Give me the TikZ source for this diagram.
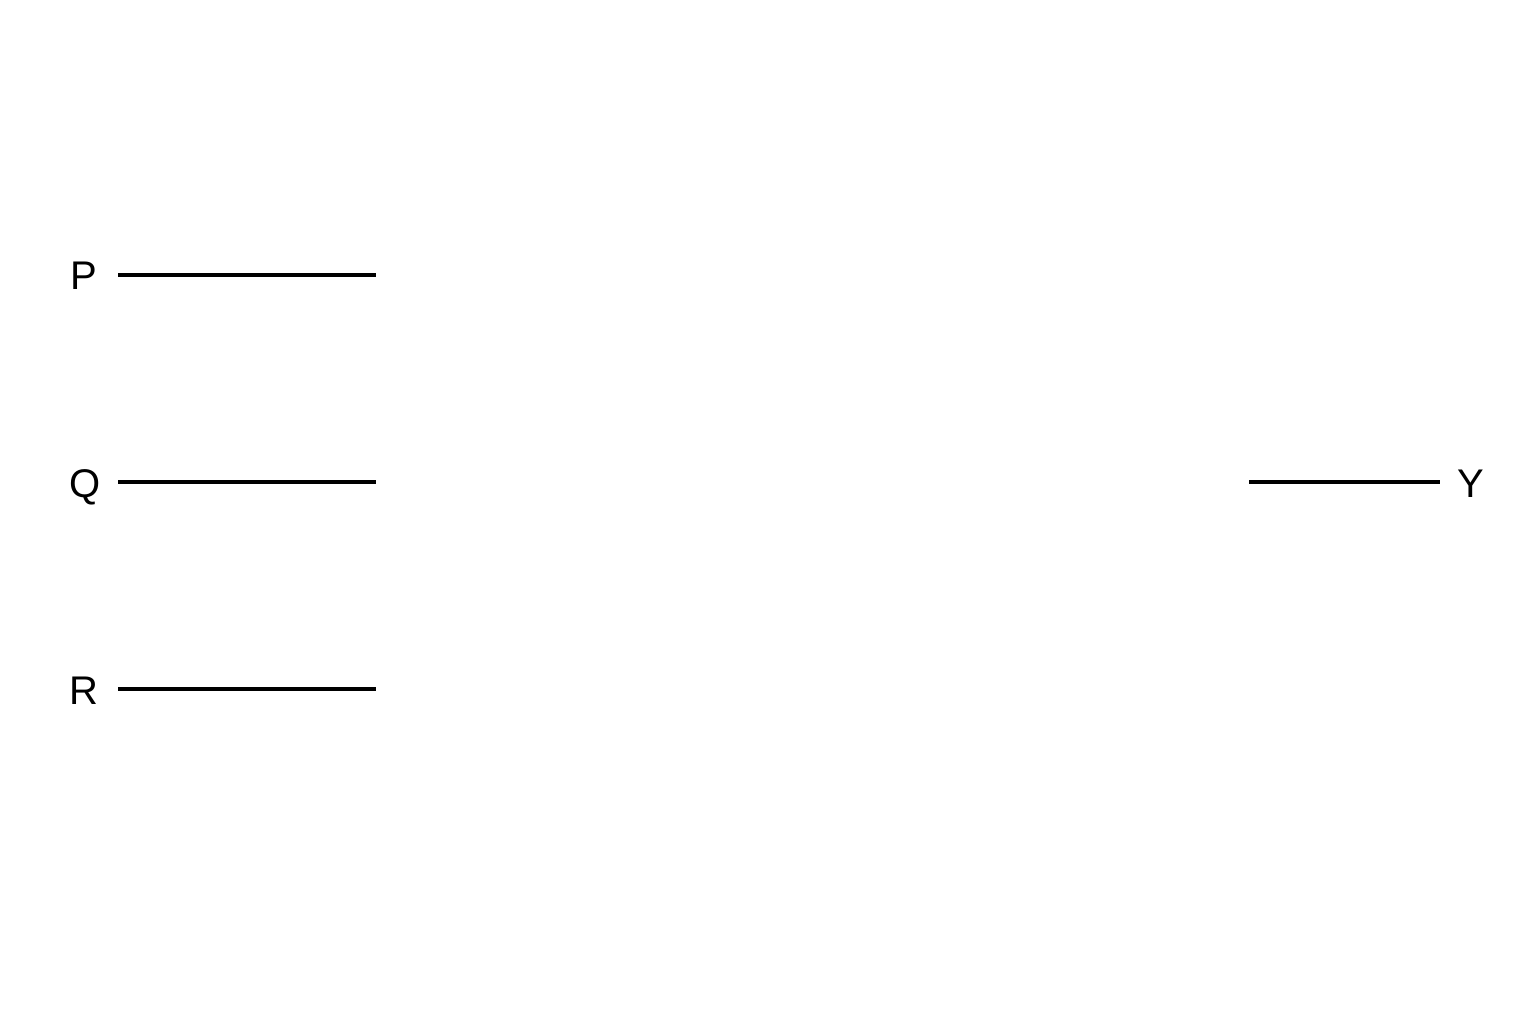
\documentclass[tikz,border=0pt]{standalone}
\usepackage{fontspec}
\setmainfont{Liberation Sans}
\begin{document}
\begin{tikzpicture}[x=1pt,y=-1pt,
  wire/.style={line width=3.2pt,black},
  lbl/.style={font=\fontsize{40}{40}\selectfont,inner sep=0pt,anchor=base}]
\useasboundingbox[fill=white] (0,0) rectangle (1536,1024);
\node[lbl] (P) at (84,290) {P};
\node[lbl] (Q) at (85,497) {Q};
\node[lbl] (R) at (84,704) {R};
\node[lbl] (Y) at (1471,497) {Y};
\coordinate (pa) at (118,275); \coordinate (pb) at (376,275);
\coordinate (qa) at (118,482); \coordinate (qb) at (376,482);
\coordinate (ra) at (118,689); \coordinate (rb) at (376,689);
\coordinate (ya) at (1249,482); \coordinate (yb) at (1440,482);
\draw[wire] (pa) -- (pb);
\draw[wire] (qa) -- (qb);
\draw[wire] (ra) -- (rb);
\draw[wire] (ya) -- (yb);
\end{tikzpicture}
\end{document}
